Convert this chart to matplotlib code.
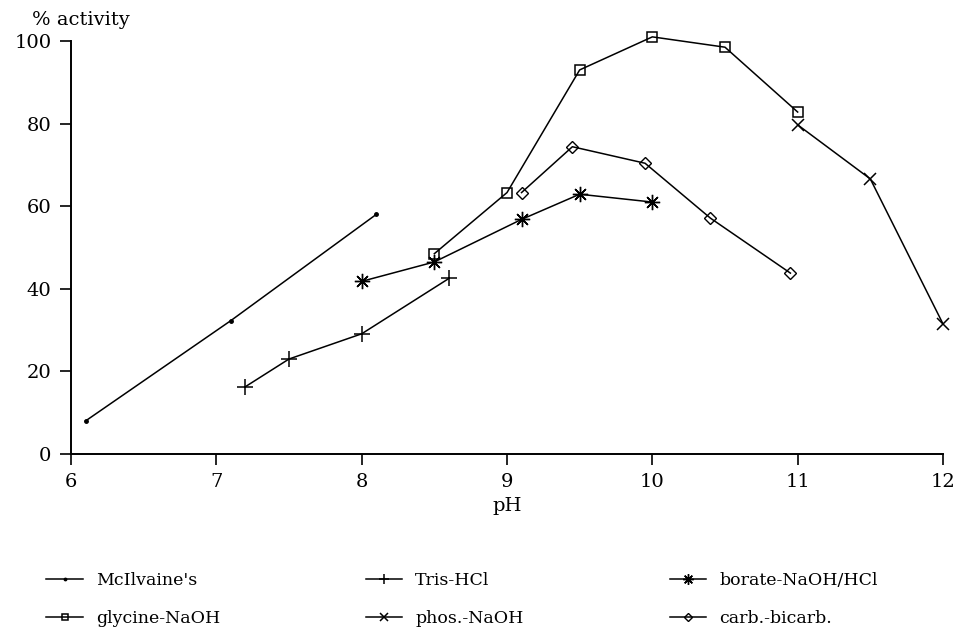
import matplotlib.pyplot as plt

# pH activity profiles, one series per buffer system
mcilvaine_ph = [6.1, 7.1, 8.1]
mcilvaine_act = [8.0, 32.3, 58.0]

tris_ph = [7.2, 7.5, 8.0, 8.6]
tris_act = [16.3, 23.0, 29.1, 42.5]

borate_ph = [8.0, 8.5, 9.1, 9.5, 10.0]
borate_act = [41.8, 46.5, 56.8, 62.9, 61.0]

glycine_ph = [8.5, 9.0, 9.5, 10.0, 10.5, 11.0]
glycine_act = [48.5, 63.3, 93.0, 101.0, 98.5, 82.8]

phos_ph = [11.0, 11.5, 12.0]
phos_act = [79.7, 66.6, 31.5]

carb_ph = [9.1, 9.45, 9.95, 10.4, 10.95]
carb_act = [63.3, 74.4, 70.4, 57.1, 43.8]

xticks = [6, 7, 8, 9, 10, 11, 12]
yticks = [0, 20, 40, 60, 80, 100]

plt.rcParams["font.family"] = ["DejaVu Serif"]
fig = plt.figure(figsize=(9.59, 6.36), dpi=100)
ax = fig.add_axes([71 / 959, 1 - 454 / 636, 872 / 959, 413 / 636])

lw = 1.1
style = dict(color="black", lw=lw, clip_on=False)
h_mc, = ax.plot(mcilvaine_ph, mcilvaine_act, marker="o", ms=2.5, **style)
h_tr, = ax.plot(tris_ph, tris_act, marker="+", ms=11, mew=1.1, **style)
h_bo, = ax.plot(borate_ph, borate_act, marker=(8, 2, 0), ms=11, mew=1.0, **style)
h_gl, = ax.plot(glycine_ph, glycine_act, marker="s", ms=7, mfc="none", mew=1.1, **style)
h_ph, = ax.plot(phos_ph, phos_act, marker="x", ms=9, mew=1.1, **style)
h_ca, = ax.plot(carb_ph, carb_act, marker="D", ms=6.5, mfc="none", mew=1.0, **style)

ax.set_xlim(6, 12)
ax.set_ylim(0, 100)
ax.set_xticks(xticks)
ax.set_yticks(yticks)
ax.spines["top"].set_visible(False)
ax.spines["right"].set_visible(False)
ax.spines["left"].set_linewidth(1.4)
ax.spines["bottom"].set_linewidth(1.4)
ax.tick_params(direction="out", length=8, width=1.2, labelsize=14, pad=6)
ax.set_xlabel("pH", fontsize=14, labelpad=4)
ax.text(-0.045, 1.05, "% activity", transform=ax.transAxes, fontsize=14,
        ha="left", va="center")

handles = [h_mc, h_gl, h_tr, h_ph, h_bo, h_ca]
labels = ["McIlvaine's", "glycine-NaOH", "Tris-HCl", "phos.-NaOH",
          "borate-NaOH/HCl", "carb.-bicarb."]
fig.legend(handles, labels, ncol=3, loc="upper left",
           bbox_to_anchor=(0.032, 0.125), frameon=False, fontsize=12.5,
           handlelength=2.1, columnspacing=8.4, labelspacing=1.2,
           handletextpad=0.75, markerscale=0.7,
           bbox_transform=fig.transFigure)

fig.savefig("out.png", dpi=100)
